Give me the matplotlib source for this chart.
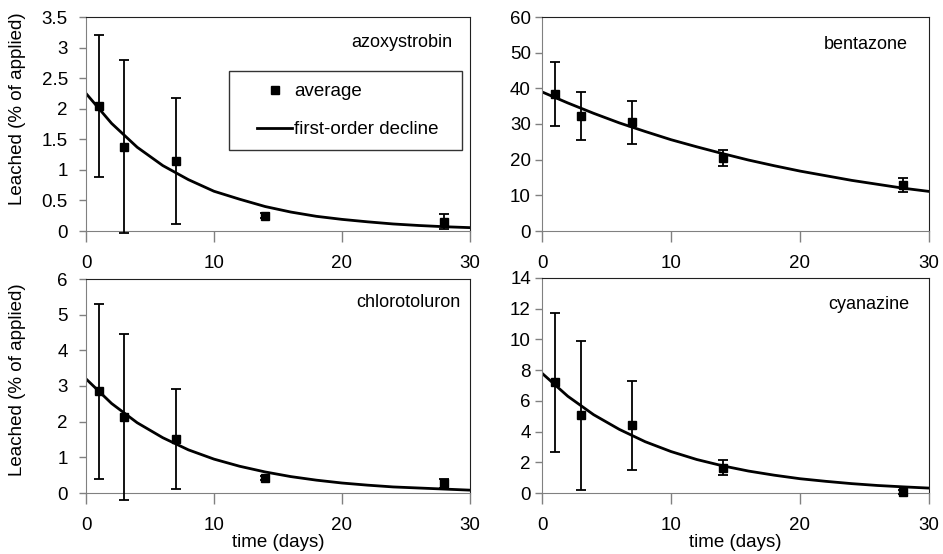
import matplotlib.pyplot as plt
from matplotlib.lines import Line2D
from matplotlib.legend_handler import HandlerLine2D

plt.rcParams["font.family"] = ["Liberation Sans", "DejaVu Sans"]

# =====================================================
# データ
# =====================================================
days = [1, 3, 7, 14, 28]
curve_days = [0, 2, 4, 6, 8, 10, 12, 14, 16, 18, 20, 22, 24, 26, 28, 30]

# azoxystrobin
azo_avg = [2.05, 1.38, 1.14, 0.25, 0.15]
azo_err = [1.16, 1.41, 1.03, 0.04, 0.12]
azo_fit = [2.25, 1.76, 1.37, 1.07, 0.84, 0.65, 0.52, 0.40, 0.31, 0.24,
           0.19, 0.15, 0.115, 0.09, 0.07, 0.055]

# bentazone
ben_avg = [38.5, 32.2, 30.5, 20.5, 13.0]
ben_err = [9.0, 6.8, 6.0, 2.2, 2.0]
ben_fit = [39.0, 35.9, 33.0, 30.3, 27.9, 25.6, 23.6, 21.7, 19.9, 18.3,
           16.8, 15.5, 14.2, 13.1, 12.0, 11.1]

# chlorotoluron
chl_avg = [2.85, 2.13, 1.52, 0.42, 0.27]
chl_err = [2.45, 2.33, 1.40, 0.06, 0.12]
chl_fit = [3.2, 2.51, 1.97, 1.55, 1.21, 0.95, 0.75, 0.59, 0.46, 0.36,
           0.28, 0.22, 0.17, 0.14, 0.11, 0.08]

# cyanazine
cya_avg = [7.2, 5.05, 4.4, 1.65, 0.05]
cya_err = [4.5, 4.85, 2.9, 0.5, 0.12]
cya_fit = [7.8, 6.3, 5.1, 4.14, 3.34, 2.70, 2.18, 1.77, 1.43, 1.16,
           0.93, 0.76, 0.61, 0.49, 0.40, 0.32]

W, H = 943, 554
FS = 13.5


def px_axes(fig, left, top, right, bottom):
    """ピクセル座標から axes を作る"""
    return fig.add_axes([left / W, (H - bottom) / H,
                         (right - left) / W, (bottom - top) / H])


def draw_panel(ax, avg, err, fit, name, name_xy, ymax, ystep, ypad,
               ylabel_y=None, xlabel=False):
    ax.plot(curve_days, fit, color="black", lw=2.0, zorder=2)
    ax.errorbar(days, avg, yerr=err, fmt="s", color="black", ms=6,
                elinewidth=1.3, capsize=3.8, capthick=1.3, zorder=3,
                clip_on=False)
    ax.set_xlim(0, 30)
    ax.set_ylim(0, ymax)
    ax.set_xticks([0, 10, 20, 30])
    yt = []
    v = 0.0
    while v <= ymax + 1e-9:
        yt.append(round(v, 2))
        v += ystep
    ax.set_yticks(yt)
    ax.set_yticklabels([f"{t:g}" for t in yt])
    ax.tick_params(axis="x", direction="out", length=8, width=1,
                   color="#808080", pad=9, labelsize=FS)
    ax.tick_params(axis="y", direction="out", length=5, width=1,
                   color="#808080", pad=ypad, labelsize=FS)
    for s in ["left", "bottom"]:
        ax.spines[s].set_color("#808080")
    for s in ["top", "right"]:
        ax.spines[s].set_color("#202020")
    ax.text(name_xy[0], name_xy[1], name, transform=ax.transAxes, ha="right",
            va="center", fontsize=FS - 0.5)
    if ylabel_y is not None:
        ax.set_ylabel("Leached (% of applied)", fontsize=FS)
        ax.yaxis.set_label_coords(-0.156, ylabel_y)
    if xlabel:
        ax.set_xlabel("time (days)", fontsize=FS, labelpad=0)


fig = plt.figure(figsize=(W / 100, H / 100), dpi=100)

ax1 = px_axes(fig, 86, 17, 470, 231)
ax2 = px_axes(fig, 542, 17, 929, 231)
ax3 = px_axes(fig, 86, 279, 470, 493)
ax4 = px_axes(fig, 542, 278, 929, 493)

draw_panel(ax1, azo_avg, azo_err, azo_fit, "azoxystrobin", (0.953, 0.88),
           3.5, 0.5, 8, ylabel_y=0.57)
draw_panel(ax2, ben_avg, ben_err, ben_fit, "bentazone", (0.946, 0.87),
           60, 10, 3)
draw_panel(ax3, chl_avg, chl_err, chl_fit, "chlorotoluron", (0.974, 0.89),
           6, 1, 8, ylabel_y=0.528, xlabel=True)
draw_panel(ax4, cya_avg, cya_err, cya_fit, "cyanazine", (0.948, 0.875),
           14, 2, 3, xlabel=True)

# 凡例（左上のグラフ内、枠はExcel風に広め）
h_avg = Line2D([], [], ls="none", marker="s", ms=6, color="black")
h_fit = Line2D([], [], lw=2.0, color="black")
hmap = {h_avg: HandlerLine2D(xpad=0.85), h_fit: HandlerLine2D(xpad=0.85)}
leg = ax1.legend([h_avg, h_fit], ["average", "first-order decline"],
                 loc="upper left", mode="expand",
                 bbox_to_anchor=(0.3724, 0.3645, 0.607, 0.383),
                 handler_map=hmap,
                 fontsize=FS, frameon=True, fancybox=False,
                 edgecolor="black", handlelength=2.72, handletextpad=0.1,
                 labelspacing=1.1, borderpad=0.65, borderaxespad=0)
leg.get_frame().set_linewidth(1.0)

fig.savefig("out.png", dpi=100)
